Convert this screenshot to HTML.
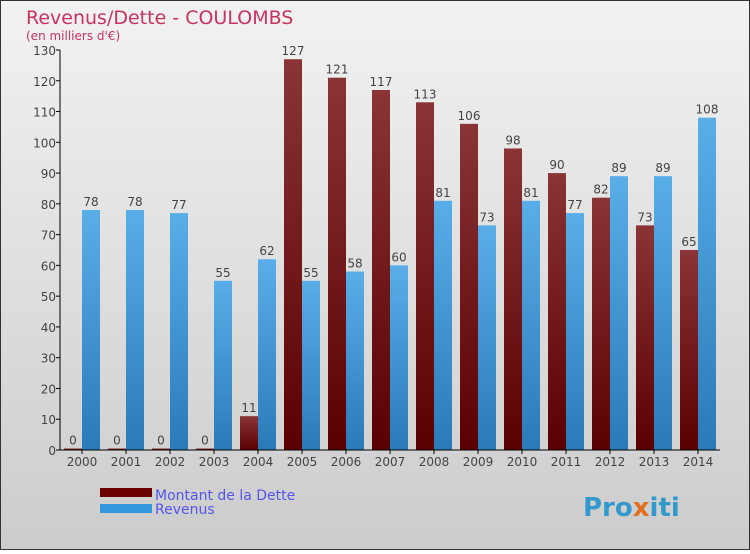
<!DOCTYPE html>
<html><head><meta charset="utf-8"><style>
body{margin:0}
#c{position:relative;width:750px;height:550px;font-family:"DejaVu Sans","Liberation Sans",sans-serif}
</style></head><body>
<div id="c">
<svg id="s" width="750" height="550" xmlns="http://www.w3.org/2000/svg">
<defs>
<linearGradient id="bg" x1="0" y1="0" x2="0" y2="1"><stop offset="0" stop-color="#f2f2f2"/><stop offset="1" stop-color="#cccccc"/></linearGradient>
<linearGradient id="gd" x1="0" y1="0" x2="0" y2="1"><stop offset="0" stop-color="#8a3436"/><stop offset="1" stop-color="#5a0000"/></linearGradient>
<linearGradient id="gr" x1="0" y1="0" x2="0" y2="1"><stop offset="0" stop-color="#5aaee8"/><stop offset="1" stop-color="#2a7ab8"/></linearGradient>
</defs>
<rect x="0.5" y="0.5" width="749" height="549" fill="url(#bg)" stroke="#333"/>
<text x="26" y="24" font-size="19" fill="#c8335e">Revenus/Dette - COULOMBS</text>
<text x="26" y="40" font-size="12" fill="#c8335e">(en milliers d'€)</text>
<g id="plot"></g>
<rect x="100" y="488" width="52" height="9" fill="#6b0000"/>
<rect x="100" y="504" width="52" height="9" fill="#3399dd"/>
<text x="155" y="500" font-size="14" fill="#5555ee">Montant de la Dette</text>
<text x="155" y="514" font-size="14" fill="#5555ee">Revenus</text>
<text x="583" y="516" font-size="26" font-weight="bold" fill="#3399cc">Pro<tspan fill="#e07020">x</tspan>iti</text>
</svg>
</div>
<script>
const years=["2000","2001","2002","2003","2004","2005","2006","2007","2008","2009","2010","2011","2012","2013","2014"];
const dette=[0,0,0,0,11,127,121,117,113,106,98,90,82,73,65];
const revenus=[78,78,77,55,62,55,58,60,81,73,81,77,89,89,108];
const yTicks=[0,10,20,30,40,50,60,70,80,90,100,110,120,130];
const NS="http://www.w3.org/2000/svg";
const g=document.getElementById("plot");
const y0=450,yTop=50,yMax=130,x0=60,step=44,bw=18;
const yS=v=>y0-(v/yMax)*(y0-yTop);
const xC=i=>82+i*step;
function mk(t,a){const e=document.createElementNS(NS,t);for(const k in a)e.setAttribute(k,a[k]);g.appendChild(e);return e;}
yTicks.forEach(v=>{
 const l=mk("line",{x1:x0-4,x2:x0,y1:yS(v),y2:yS(v),stroke:"#000"});
 
 
 const t=mk("text",{x:x0-4,y:yS(v)+5,"font-size":12,"text-anchor":"end",fill:"#444"});t.textContent=v;
 
 
});
years.forEach((yr,i)=>{
 const c=xC(i);
 const hd=Math.max(y0-yS(dette[i]),1.5);
 const b1=mk("rect",{x:c-bw,y:y0-hd,width:bw,height:hd,fill:"url(#gd)"});
 
 
 const b2=mk("rect",{x:c,y:yS(revenus[i]),width:bw,height:y0-yS(revenus[i]),fill:"url(#gr)"});
 
 
 const t1=mk("text",{x:c-bw/2,y:y0-hd-4,"font-size":12,"text-anchor":"middle",fill:"#444"});t1.textContent=dette[i];
 
 
 const t2=mk("text",{x:c+bw/2,y:yS(revenus[i])-4,"font-size":12,"text-anchor":"middle",fill:"#444"});t2.textContent=revenus[i];
 
 
 const tk=mk("line",{x1:c,x2:c,y1:y0,y2:y0+4,stroke:"#000"});
 
 
 const xl=mk("text",{x:c,y:466,"font-size":12,"text-anchor":"middle",fill:"#444"});xl.textContent=yr;
 
 
});
const ax=mk("line",{x1:x0,x2:x0,y1:yTop,y2:y0,stroke:"#000"});


const bx=mk("line",{x1:x0,x2:720,y1:y0,y2:y0,stroke:"#000"});


</script>
</body></html>
